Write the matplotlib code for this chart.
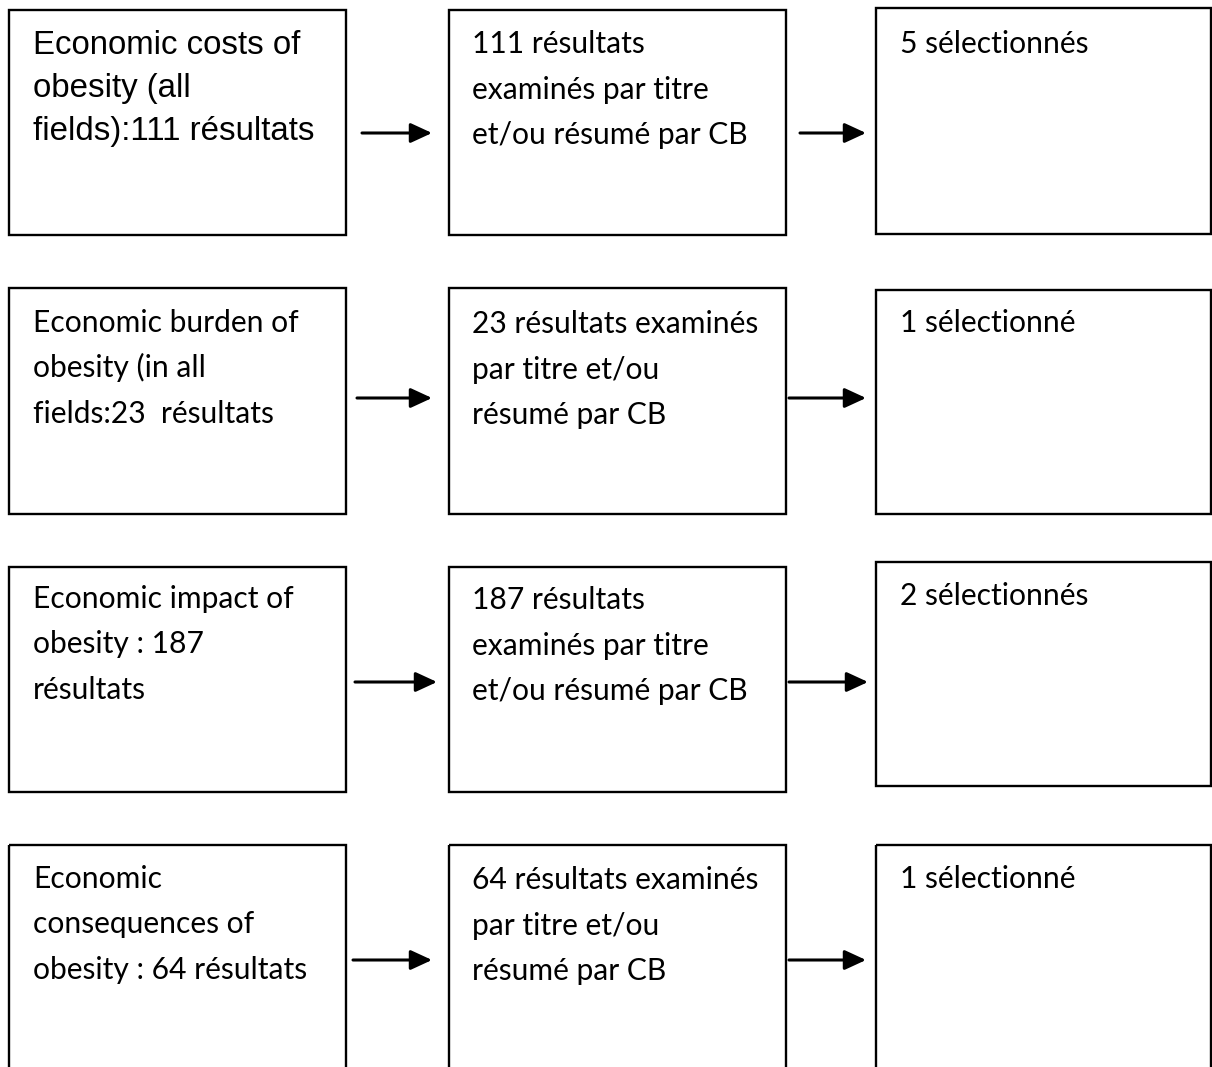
import matplotlib.pyplot as plt
from matplotlib.patches import Rectangle

# texte des boites (une liste par colonne)
search_terms = [
    ["Economic costs of", "obesity (all", "fields):111 résultats"],
    ["Economic burden of", "obesity (in all", "fields:23  résultats"],
    ["Economic impact of", "obesity : 187", "résultats"],
    ["Economic", "consequences of", "obesity : 64 résultats"],
]
screened = [
    ["111 résultats", "examinés par titre", "et/ou résumé par CB"],
    ["23 résultats examinés", "par titre et/ou", "résumé par CB"],
    ["187 résultats", "examinés par titre", "et/ou résumé par CB"],
    ["64 résultats examinés", "par titre et/ou", "résumé par CB"],
]
selected = [["5 sélectionnés"], ["1 sélectionné"], ["2 sélectionnés"], ["1 sélectionné"]]

# mise en page (pixels)
W, H = 1212, 1067
col_x = [(9, 346), (449, 786), (876, 1211)]
row_y = [(10, 235), (288, 514), (567, 792), (845, 1075)]
right_y = [(8, 234), (290, 514), (562, 786), (845, 1075)]
text_top = [52, 332, 608, 888]
right_top = [53, 332, 605, 888]
arrows = [((362, 432), (800, 866), 133),
          ((357, 432), (789, 866), 398),
          ((355, 437), (789, 868), 682),
          ((353, 432), (789, 866), 960)]

fig = plt.figure(figsize=(W / 100, H / 100), dpi=100)
ax = fig.add_axes([0, 0, 1, 1])
ax.set_xlim(0, W)
ax.set_ylim(H, 0)
ax.axis('off')

def draw_box(x0, x1, y0, y1):
    ax.add_patch(Rectangle((x0, y0), x1 - x0, y1 - y0, fill=False,
                           edgecolor='black', linewidth=1.7))

for i in range(4):
    draw_box(col_x[0][0], col_x[0][1], *row_y[i])
    draw_box(col_x[1][0], col_x[1][1], *row_y[i])
    draw_box(col_x[2][0], col_x[2][1], *right_y[i])

    # premiere boite de la premiere ligne en Arial, le reste en Calibri (Lato ici)
    fam0 = 'Liberation Sans' if i == 0 else 'Lato'
    fs0 = 23.8 if i == 0 else 21.6
    step0 = 43 if i == 0 else 45.5
    y0 = text_top[i] + (2 if i == 0 else 0)
    for j, line in enumerate(search_terms[i]):
        ax.text(33, y0 + j * step0, line, family=fam0, fontsize=fs0,
                va='baseline', ha='left')
    for j, line in enumerate(screened[i]):
        ax.text(472, text_top[i] + 1 + j * 45.5, line, family='Lato', fontsize=21.6,
                va='baseline', ha='left')
    for j, line in enumerate(selected[i]):
        ax.text(900, right_top[i] + j * 45.5, line, family='Lato', fontsize=21.6,
                va='baseline', ha='left')

    (a0, a1), (b0, b1), y = arrows[i]
    for s, e in [(a0, a1), (b0, b1)]:
        ax.annotate('', xy=(e, y), xytext=(s, y),
                    arrowprops=dict(arrowstyle='-|>,head_length=1.3,head_width=0.6',
                                    color='black', lw=2.2, shrinkA=0, shrinkB=0))

fig.savefig('out.png', dpi=100, facecolor='white')
